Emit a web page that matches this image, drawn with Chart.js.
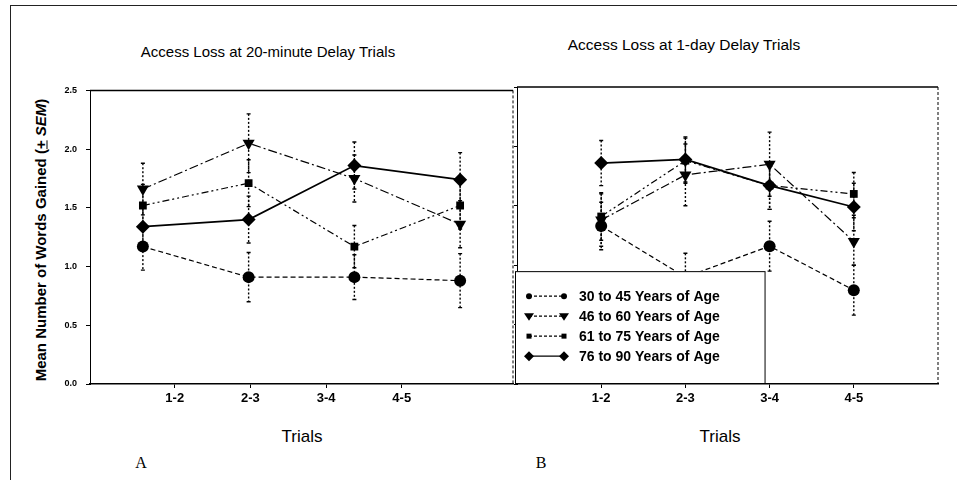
<!DOCTYPE html>
<html>
<head>
<meta charset="utf-8">
<script src="https://cdn.jsdelivr.net/npm/chart.js@4.4.0/dist/chart.umd.min.js"></script>
<style>
  body { margin: 0; background: #fff; }
  #page { position: relative; width: 957px; height: 480px; overflow: hidden; background: #fff;
          font-family: "Liberation Sans", Arial, sans-serif; color: #000; }
  #frame { position: absolute; left: 10px; top: 5px; width: 960px; height: 490px; border: 1px solid #222; }
  canvas { position: absolute; }
  .title { position: absolute; font-size: 15px; white-space: nowrap; transform: translate(-50%, -50%); }
  .xtitle { position: absolute; font-size: 17px; white-space: nowrap; transform: translate(-50%, -50%); }
  .letter { position: absolute; font-family: "Liberation Serif", "DejaVu Serif", serif; font-size: 16px;
            transform: translate(-50%, -50%); }
  #ytitle { position: absolute; left: 40px; top: 240px; font-size: 15px; font-weight: bold; white-space: nowrap;
            transform: translate(-50%, -50%) rotate(-90deg); }
</style>
</head>
<body>
<div id="page">
  <div id="frame"></div>
  <div class="title" style="left:268px; top:51px;">Access Loss at 20-minute Delay Trials</div>
  <div class="title" style="left:684px; top:45px; font-size:15.5px;">Access Loss at 1-day Delay Trials</div>
  <div id="ytitle">Mean Number of Words Gained (<u>+</u> <i>SEM</i>)</div>
  <canvas id="leftChart" width="470" height="344" style="left:50px; top:76px;"></canvas>
  <canvas id="rightChart" width="435" height="343" style="left:510px; top:77px;"></canvas>
  <div class="xtitle" style="left:302px; top:437px;">Trials</div>
  <div class="xtitle" style="left:720px; top:437px;">Trials</div>
  <div class="letter" style="left:141px; top:463px;">A</div>
  <div class="letter" style="left:541px; top:463px;">B</div>
</div>
<script>
// trials and tick labels
const categories = ['1-2', '2-3', '3-4', '4-5'];
const yTicks = [0, 0.5, 1.0, 1.5, 2.0, 2.5];
const ageGroups = ['30 to 45 Years of Age', '46 to 60 Years of Age', '61 to 75 Years of Age', '76 to 90 Years of Age'];

// 20-minute delay (panel A)
const age30_45_20 = [1.17, 0.91, 0.91, 0.88];
const age46_60_20 = [1.66, 2.05, 1.75, 1.36];
const age61_75_20 = [1.52, 1.71, 1.17, 1.52];
const age76_90_20 = [1.34, 1.40, 1.86, 1.74];
const sem30_45_20 = [0.20, 0.21, 0.19, 0.23];
const sem46_60_20 = [0.22, 0.25, 0.20, 0.20];
const sem61_75_20 = [0.18, 0.20, 0.18, 0.20];
const sem76_90_20 = [0.18, 0.20, 0.20, 0.23];

// 1-day delay (panel B)
const age30_45_1d = [1.33, 0.90, 1.16, 0.79];
const age46_60_1d = [1.38, 1.76, 1.85, 1.20];
const age61_75_1d = [1.41, 1.88, 1.67, 1.60];
const age76_90_1d = [1.86, 1.89, 1.67, 1.49];
const sem30_45_1d = [0.20, 0.20, 0.21, 0.21];
const sem46_60_1d = [0.22, 0.26, 0.27, 0.20];
const sem61_75_1d = [0.20, 0.19, 0.20, 0.18];
const sem76_90_1d = [0.19, 0.19, 0.20, 0.20];

// marker + line look for each age group
const styles = [
    { pointStyle: 'circle', radius: 6, rotation: 0, dash: [5, 3] },
    { pointStyle: 'triangle', radius: 7, rotation: 180, dash: [9, 3, 2, 3] },
    { pointStyle: 'rect', radius: 5.5, rotation: 0, dash: [7, 3, 2, 3, 2, 3] },
    { pointStyle: 'rectRot', radius: 7, rotation: 0, dash: [] }
];

function toPoints(values) {
    return values.map((v, i) => ({ x: i + 1, y: v }));
}

function makeDatasets(series, sems) {
    return series.map((values, k) => ({
        label: ageGroups[k],
        data: toPoints(values),
        sem: sems[k],
        borderColor: '#000',
        backgroundColor: '#000',
        borderWidth: k === 3 ? 1.7 : 1.2,
        borderDash: styles[k].dash,
        pointStyle: styles[k].pointStyle,
        pointRadius: styles[k].radius,
        pointRotation: styles[k].rotation,
        pointBorderWidth: 0,
        tension: 0,
        fill: false
    }));
}

// vertical SEM bars, drawn under the markers
const errorBars = {
    id: 'errorBars',
    beforeDatasetsDraw(chart) {
        const ctx = chart.ctx;
        const y = chart.scales.y;
        ctx.save();
        ctx.strokeStyle = '#000';
        ctx.lineWidth = 1.4;
        chart.data.datasets.forEach((ds, i) => {
            const meta = chart.getDatasetMeta(i);
            meta.data.forEach((pt, j) => {
                const v = ds.data[j].y;
                const s = ds.sem[j];
                const top = y.getPixelForValue(v + s);
                const bot = y.getPixelForValue(v - s);
                ctx.setLineDash([2, 2]);
                ctx.beginPath();
                ctx.moveTo(pt.x, top);
                ctx.lineTo(pt.x, bot);
                ctx.stroke();
                ctx.setLineDash([]);
                ctx.beginPath();
                ctx.moveTo(pt.x - 2, top); ctx.lineTo(pt.x + 2, top);
                ctx.moveTo(pt.x - 2, bot); ctx.lineTo(pt.x + 2, bot);
                ctx.stroke();
            });
        });
        ctx.restore();
    }
};

// top line and dashed right side of each panel
const panelFrame = {
    id: 'panelFrame',
    afterDatasetsDraw(chart) {
        const a = chart.chartArea;
        const ctx = chart.ctx;
        ctx.save();
        ctx.strokeStyle = '#000';
        ctx.lineWidth = 1.5;
        ctx.beginPath();
        ctx.moveTo(a.left, a.top);
        ctx.lineTo(a.right, a.top);
        ctx.stroke();
        ctx.lineWidth = 1;
        ctx.setLineDash([3, 2]);
        ctx.beginPath();
        ctx.moveTo(a.right, a.top);
        ctx.lineTo(a.right, a.bottom);
        ctx.stroke();
        ctx.restore();
    }
};

function drawMarker(ctx, style, x, y) {
    const r = style.radius;
    ctx.beginPath();
    if (style.pointStyle === 'circle') {
        ctx.arc(x, y, r - 1, 0, Math.PI * 2);
    } else if (style.pointStyle === 'triangle') {
        ctx.moveTo(x - r, y - r * 0.6);
        ctx.lineTo(x + r, y - r * 0.6);
        ctx.lineTo(x, y + r * 0.9);
    } else if (style.pointStyle === 'rect') {
        ctx.rect(x - r + 1, y - r + 1, 2 * r - 2, 2 * r - 2);
    } else {
        ctx.moveTo(x, y - r); ctx.lineTo(x + r, y); ctx.lineTo(x, y + r); ctx.lineTo(x - r, y);
    }
    ctx.closePath();
    ctx.fill();
}

// boxed legend sitting in the lower-left of panel B
const boxLegend = {
    id: 'boxLegend',
    afterDraw(chart) {
        const a = chart.chartArea;
        const ctx = chart.ctx;
        const left = a.left - 2;
        const right = chart.scales.x.getPixelForValue(2.94);
        const top = chart.scales.y.getPixelForValue(0.95);
        const bottom = a.bottom - 1;
        ctx.save();
        ctx.fillStyle = '#fff';
        ctx.fillRect(left, top, right - left, bottom - top);
        ctx.strokeStyle = '#000';
        ctx.lineWidth = 1;
        ctx.strokeRect(left + 0.5, top + 0.5, right - left, bottom - top);
        ctx.font = 'bold 14px "Liberation Sans", Arial, sans-serif';
        ctx.textBaseline = 'middle';
        chart.data.datasets.forEach((ds, k) => {
            const yy = top + 25 + k * 20;
            const x0 = left + 14, x1 = left + 49;
            ctx.strokeStyle = '#000';
            ctx.lineWidth = 1.2;
            ctx.setLineDash(styles[k].dash.length ? [3, 2] : []);
            ctx.beginPath();
            ctx.moveTo(x0, yy); ctx.lineTo(x1, yy);
            ctx.stroke();
            ctx.setLineDash([]);
            ctx.fillStyle = '#000';
            const small = Object.assign({}, styles[k], { radius: styles[k].radius - 2 });
            drawMarker(ctx, small, x0, yy);
            drawMarker(ctx, small, x1, yy);
            ctx.fillText(ds.label, left + 64, yy + 1);
        });
        ctx.restore();
    }
};

const tickFont = { family: '"Liberation Sans Narrow", "Liberation Sans", Arial, sans-serif', size: 13, weight: 'bold' };

function trialAxis(min, max) {
    return {
        type: 'linear',
        position: 'bottom',
        min: min,
        max: max,
        afterBuildTicks: (s) => { s.ticks = categories.map((c, i) => ({ value: i + 1 })); },
        ticks: {
            callback: (v) => categories[v - 1] || '',
            font: tickFont,
            color: '#000',
            padding: 3,
            autoSkip: false,
            maxRotation: 0
        },
        grid: { drawOnChartArea: false, tickLength: 4, color: '#000' },
        border: { color: '#000', width: 1.5 },
        afterFit: (s) => { s.height = 36; }
    };
}

// panel A: markers spread over the panel, trial labels on their own axis
new Chart(document.getElementById('leftChart'), {
    type: 'line',
    data: {
        datasets: makeDatasets(
            [age30_45_20, age46_60_20, age61_75_20, age76_90_20],
            [sem30_45_20, sem46_60_20, sem61_75_20, sem76_90_20])
    },
    options: {
        responsive: false,
        animation: false,
        devicePixelRatio: 1,
        layout: { padding: { top: 6, right: 5, left: 0, bottom: 0 } },
        plugins: { legend: { display: false }, tooltip: { enabled: false } },
        scales: {
            x: { type: 'linear', min: 0.5, max: 4.5, display: false },
            xLab: trialAxis(-0.12, 5.47),
            y: {
                min: 0,
                max: 2.5,
                afterBuildTicks: (s) => { s.ticks = yTicks.map(v => ({ value: v })); },
                ticks: {
                    callback: (v) => v.toFixed(1),
                    font: { family: '"Liberation Sans", Arial, sans-serif', size: 9, weight: 'bold' },
                    color: '#000',
                    padding: 9
                },
                grid: { drawOnChartArea: false, tickLength: 4, color: '#000' },
                border: { color: '#000', width: 1, dash: [3, 2] },
                afterFit: (s) => { s.width = 40; }
            }
        }
    },
    plugins: [errorBars, panelFrame]
});

// panel B
new Chart(document.getElementById('rightChart'), {
    type: 'line',
    data: {
        datasets: makeDatasets(
            [age30_45_1d, age46_60_1d, age61_75_1d, age76_90_1d],
            [sem30_45_1d, sem46_60_1d, sem61_75_1d, sem76_90_1d])
    },
    options: {
        responsive: false,
        animation: false,
        devicePixelRatio: 1,
        layout: { padding: { top: 10, right: 5, left: 0, bottom: 0 } },
        plugins: { legend: { display: false }, tooltip: { enabled: false } },
        scales: {
            x: trialAxis(0, 5),
            y: {
                min: 0,
                max: 2.5,
                afterBuildTicks: (s) => { s.ticks = yTicks.map(v => ({ value: v })); },
                ticks: { display: false },
                grid: { drawOnChartArea: false, tickLength: 3, color: '#000' },
                border: { color: '#000', width: 1, dash: [3, 2] },
                afterFit: (s) => { s.width = 5; }
            }
        }
    },
    plugins: [errorBars, panelFrame, boxLegend]
});
</script>
</body>
</html>
